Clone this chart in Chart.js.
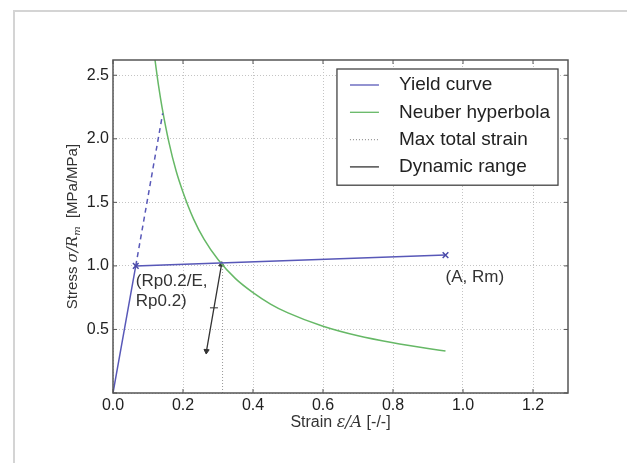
<!DOCTYPE html>
<html>
<head>
<meta charset="utf-8">
<script src="https://cdn.jsdelivr.net/npm/chart.js@4"></script>
<style>
  body { margin: 0; background: #fff; }
  #frame { position: absolute; left: 13px; top: 10px; width: 700px; height: 500px;
           border-left: 2px solid #d4d4d4; border-top: 2px solid #d4d4d4; }
  #wrap { position: absolute; left: 0; top: 0; width: 627px; height: 463px; }
</style>
</head>
<body>
<div id="frame"></div>
<div id="wrap"><canvas id="chart" width="627" height="463"></canvas></div>
<script>
// values
const yieldX = [0, 0.065, 0.95];
const yieldY = [0, 1.0, 1.085];
const elasticX = [0.065, 0.142];
const elasticY = [1.0, 2.2];
const neuberX = [0.12, 0.13, 0.14, 0.16, 0.18, 0.2, 0.23, 0.26, 0.3, 0.35, 0.4, 0.45, 0.5, 0.6, 0.7, 0.8, 0.9, 0.95];
const neuberY = [2.62, 2.42, 2.25, 1.97, 1.75, 1.58, 1.37, 1.21, 1.05, 0.9, 0.79, 0.7, 0.63, 0.525, 0.45, 0.395, 0.35, 0.33];
const maxStrainX = [0.313, 0.313];
const maxStrainY = [0, 1.03];
const rangeX = [0.31, 0.2885, 0.267];
const rangeY = [1.01, 0.67, 0.33];

const xTicks = [0, 0.2, 0.4, 0.6, 0.8, 1.0, 1.2];
const yTicks = [0, 0.5, 1.0, 1.5, 2.0, 2.5];
const xMax = 1.3;
const yMax = 2.62;

const notes = [
    { lines: ['(Rp0.2/E,', 'Rp0.2)'], x: 0.065, y: 1.0 },
    { lines: ['(A, Rm)'], x: 0.95, y: 1.085 }
];

const pts = (xs, ys) => xs.map((x, i) => ({ x: x, y: ys[i] }));
const SANS = '"Liberation Sans", Arial, sans-serif';
const SERIF = '"DejaVu Serif", serif';

function drawParts(ctx, parts, cx, cy) {
    let total = 0;
    parts.forEach(p => { ctx.font = p.f; total += ctx.measureText(p.t).width; });
    let x = cx - total / 2;
    parts.forEach(p => {
        ctx.font = p.f;
        ctx.fillText(p.t, x, cy + (p.dy || 0));
        x += ctx.measureText(p.t).width;
    });
}

const decor = {
    id: 'decor',
    afterDraw(chart) {
        const ctx = chart.ctx;
        const a = chart.chartArea;
        const xs = chart.scales.x, ys = chart.scales.y;
        ctx.save();

        // axes frame + inward ticks
        ctx.strokeStyle = '#555';
        ctx.lineWidth = 1.5;
        ctx.strokeRect(a.left, a.top, a.right - a.left, a.bottom - a.top);
        ctx.lineWidth = 1;
        ctx.beginPath();
        xTicks.forEach(v => {
            const px = xs.getPixelForValue(v);
            ctx.moveTo(px, a.bottom); ctx.lineTo(px, a.bottom - 4);
            ctx.moveTo(px, a.top); ctx.lineTo(px, a.top + 4);
        });
        yTicks.forEach(v => {
            const py = ys.getPixelForValue(v);
            ctx.moveTo(a.left, py); ctx.lineTo(a.left + 4, py);
            ctx.moveTo(a.right, py); ctx.lineTo(a.right - 4, py);
        });
        ctx.stroke();

        // axis titles
        ctx.fillStyle = '#333';
        ctx.textBaseline = 'middle';
        ctx.textAlign = 'left';
        drawParts(ctx, [
            { t: 'Strain ', f: '16px ' + SANS },
            { t: 'ε/A', f: 'italic 16px ' + SERIF },
            { t: ' [-/-]', f: '16px ' + SANS }
        ], (a.left + a.right) / 2, 423);
        ctx.save();
        ctx.translate(73, (a.top + a.bottom) / 2);
        ctx.rotate(-Math.PI / 2);
        drawParts(ctx, [
            { t: 'Stress ', f: '15px ' + SANS },
            { t: 'σ/R', f: 'italic 15px ' + SERIF },
            { t: 'm', f: 'italic 10px ' + SERIF, dy: 4 },
            { t: '  [MPa/MPa]', f: '15px ' + SANS }
        ], 0, 0);
        ctx.restore();

        // annotations
        ctx.font = '17px ' + SANS;
        ctx.fillStyle = '#333';
        ctx.textBaseline = 'middle';
        notes.forEach((n, k) => {
            const px = xs.getPixelForValue(n.x);
            const py = ys.getPixelForValue(n.y);
            const off = k === 0 ? 15 : 22;
            n.lines.forEach((l, i) => ctx.fillText(l, px, py + off + i * 20));
        });

        // legend inside the axes
        const items = chart.data.datasets.filter(d => d.label);
        ctx.font = '19px ' + SANS;
        let w = 0;
        items.forEach(d => { w = Math.max(w, ctx.measureText(d.label).width); });
        const bw = w + 70, rowH = 27.3;
        const bh = items.length * rowH + 7;
        const bx = a.right - 10 - bw, by = a.top + 9;
        ctx.fillStyle = '#fff';
        ctx.fillRect(bx, by, bw, bh);
        ctx.strokeStyle = '#444';
        ctx.lineWidth = 1.3;
        ctx.strokeRect(bx, by, bw, bh);
        items.forEach((d, i) => {
            const cy = by + 16 + i * rowH;
            ctx.strokeStyle = d.borderColor;
            ctx.lineWidth = 1.3;
            ctx.setLineDash(d.borderDash || []);
            ctx.beginPath();
            ctx.moveTo(bx + 13, cy); ctx.lineTo(bx + 42, cy);
            ctx.stroke();
            ctx.setLineDash([]);
            ctx.fillStyle = '#222';
            ctx.fillText(d.label, bx + 62, cy);
        });
        ctx.restore();
    }
};

new Chart(document.getElementById('chart').getContext('2d'), {
    type: 'scatter',
    data: {
        datasets: [
            {
                label: 'Yield curve',
                data: pts(yieldX, yieldY),
                showLine: true,
                borderColor: '#5858b8',
                borderWidth: 1.5,
                pointStyle: 'crossRot',
                pointRadius: [0, 4, 4],
                pointBorderColor: '#4a4aa8',
                pointBorderWidth: 1.5
            },
            {
                data: pts(elasticX, elasticY),
                showLine: true,
                borderColor: '#5858b8',
                borderWidth: 1.5,
                borderDash: [5, 4],
                pointRadius: 0
            },
            {
                label: 'Neuber hyperbola',
                data: pts(neuberX, neuberY),
                showLine: true,
                borderColor: '#66b866',
                borderWidth: 1.5,
                cubicInterpolationMode: 'monotone',
                pointRadius: 0
            },
            {
                label: 'Max total strain',
                data: pts(maxStrainX, maxStrainY),
                showLine: true,
                borderColor: '#999',
                borderWidth: 1,
                borderDash: [1, 2],
                pointRadius: 0
            },
            {
                label: 'Dynamic range',
                data: pts(rangeX, rangeY),
                showLine: true,
                borderColor: '#333',
                borderWidth: 1.3,
                pointStyle: ['triangle', 'line', 'triangle'],
                pointRotation: [5, 0, 185],
                pointRadius: [3, 4, 3],
                pointBackgroundColor: '#333',
                pointBorderColor: '#333',
                pointBorderWidth: 1
            }
        ]
    },
    options: {
        responsive: false,
        animation: false,
        layout: { padding: { top: 60, right: 59, left: 0, bottom: 0 } },
        plugins: { legend: { display: false }, tooltip: { enabled: false } },
        scales: {
            x: {
                type: 'linear', min: 0, max: xMax,
                afterBuildTicks: s => { s.ticks = xTicks.map(v => ({ value: v })); },
                afterFit: s => { s.height = 70; },
                ticks: { callback: v => v.toFixed(1), color: '#222', padding: 3,
                         font: { size: 16, family: SANS } },
                grid: { color: '#c4c4c4', drawTicks: false },
                border: { display: false, dash: [1, 2] }
            },
            y: {
                type: 'linear', min: 0, max: yMax,
                afterBuildTicks: s => { s.ticks = yTicks.map(v => ({ value: v })); },
                afterFit: s => { s.width = 113; },
                // the 0.0 label is left to the x axis
                ticks: { callback: v => (v === 0 ? '' : v.toFixed(1)), color: '#222', padding: 4,
                         font: { size: 16, family: SANS } },
                grid: { color: '#c4c4c4', drawTicks: false },
                border: { display: false, dash: [1, 2] }
            }
        }
    },
    plugins: [decor]
});
</script>
</body>
</html>
